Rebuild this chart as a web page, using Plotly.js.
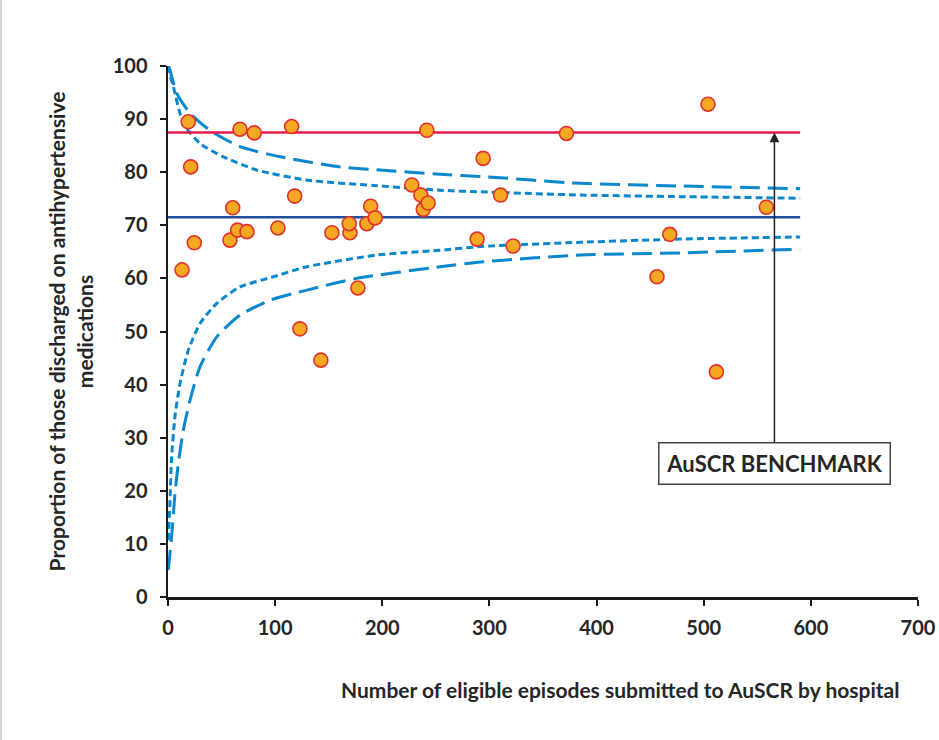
<!DOCTYPE html>
<html>
<head>
<meta charset="utf-8">
<script src="https://cdn.plot.ly/plotly-3.0.1.min.js"></script>
<style>
  html, body { margin: 0; padding: 0; background: #fff; }
  #chart { width: 939px; height: 740px; }
  #edge { position: absolute; left: 0; top: 0; width: 2px; height: 740px; background: #d6d6d6; }
</style>
</head>
<body>
<div id="chart"></div>
<div id="edge"></div>
<script>
// Hospital points: number of eligible episodes vs proportion discharged on antihypertensives
const hospitalEpisodes = [13.1, 18.9, 21.2, 24.5, 57.8, 60.4, 65.0, 67.2, 73.7, 80.5,
  102.6, 115.4, 118.2, 123.1, 142.7, 153.0, 169.8, 169.1, 177.2, 185.6,
  189.1, 193.4, 227.6, 236.0, 238.2, 242.8, 241.6, 288.5, 294.1, 310.4,
  322.1, 371.9, 456.4, 468.3, 504.0, 511.8, 558.5];
const hospitalProportion = [61.6, 89.5, 81.0, 66.7, 67.2, 73.3, 69.1, 88.1, 68.8, 87.4,
  69.5, 88.6, 75.5, 50.5, 44.6, 68.6, 68.6, 70.3, 58.2, 70.3,
  73.6, 71.4, 77.6, 75.7, 73.0, 74.2, 87.9, 67.4, 82.6, 75.7,
  66.1, 87.3, 60.3, 68.3, 92.8, 42.4, 73.4];

// Reference lines
const lineX = [0, 590];
const benchmarkY = [87.5, 87.5];
const averageY = [71.5, 71.5];

// Funnel limits
const upper95X = [0, 1, 5, 14.3, 29.9, 51.7, 83, 130, 192, 254, 292, 385, 478, 590];
const upper95Y = [100, 99, 96.1, 89.2, 85.4, 82.9, 80.4, 78.5, 77.5, 76.6, 76.3, 75.7, 75.4, 75.1];
const upper998X = [0, 1.2, 8.1, 20.6, 39, 67.3, 105, 161, 198, 254, 292, 385, 478, 590];
const upper998Y = [100, 99.6, 94.9, 91.1, 87.9, 84.8, 82.9, 81.0, 80.4, 79.6, 79.2, 77.9, 77.4, 76.9];
const lower95X = [0.3, 1.9, 3.4, 6.5, 11.2, 19, 29.9, 45.5, 67.3, 98.4, 129.6, 195, 254, 292, 385, 478, 590];
const lower95Y = [10.7, 18.3, 26.4, 34, 40.2, 46.5, 51.5, 55.3, 58.4, 60.3, 62.2, 64.4, 65.3, 66.0, 66.8, 67.4, 67.8];
const lower998X = [0.3, 3.4, 6.5, 9.7, 14.3, 20.6, 29.9, 45.5, 67.3, 95.3, 129.6, 176, 254, 292, 385, 478, 590];
const lower998Y = [5.1, 11.4, 19.5, 25.2, 31.4, 37.1, 43.4, 49.0, 53.1, 55.9, 57.8, 60.0, 62.2, 63.1, 64.4, 64.8, 65.5];

const xTicks = [0, 100, 200, 300, 400, 500, 600, 700];
const yTicks = [0, 10, 20, 30, 40, 50, 60, 70, 80, 90, 100];

const funnelColor = '#0a87cd';
const shortDash = '7px,4px';
const longDash = '20px,8px';

const traces = [
  {x: upper998X, y: upper998Y, mode: 'lines', line: {color: funnelColor, width: 3, dash: longDash, shape: 'spline', smoothing: 0.6}, hoverinfo: 'skip'},
  {x: lower998X, y: lower998Y, mode: 'lines', line: {color: funnelColor, width: 3, dash: longDash, shape: 'spline', smoothing: 0.6}, hoverinfo: 'skip'},
  {x: upper95X, y: upper95Y, mode: 'lines', line: {color: funnelColor, width: 3, dash: shortDash, shape: 'spline', smoothing: 0.6}, hoverinfo: 'skip'},
  {x: lower95X, y: lower95Y, mode: 'lines', line: {color: funnelColor, width: 3, dash: shortDash, shape: 'spline', smoothing: 0.6}, hoverinfo: 'skip'},
  {x: lineX, y: benchmarkY, mode: 'lines', line: {color: '#e8194c', width: 2.5}},
  {x: lineX, y: averageY, mode: 'lines', line: {color: '#1f4f9c', width: 2.5}},
  {x: hospitalEpisodes, y: hospitalProportion, mode: 'markers',
   marker: {size: 14, color: '#f7a823', line: {color: '#e2302a', width: 1.6}}}
];

const tickFont = {family: 'Lato, "Open Sans", sans-serif', size: 20, color: '#262626', weight: 700};
const titleFont = {family: 'Lato, "Open Sans", sans-serif', size: 21, color: '#262626', weight: 700};

const layout = {
  width: 939, height: 740,
  margin: {l: 168, r: 21, t: 66, b: 143},
  paper_bgcolor: '#ffffff', plot_bgcolor: '#ffffff',
  showlegend: false,
  font: tickFont,
  xaxis: {
    range: [0, 700], tickvals: xTicks, ticktext: xTicks.map(String),
    showgrid: false, zeroline: false, showline: true, linecolor: '#1a1a1a', linewidth: 2.5,
    ticks: 'outside', ticklen: 6, tickwidth: 2, tickcolor: '#1a1a1a',
    tickfont: tickFont, ticklabelstandoff: 5, fixedrange: true
  },
  yaxis: {
    range: [0, 100], tickvals: yTicks, ticktext: yTicks.map(String),
    showgrid: false, zeroline: false, showline: true, linecolor: '#1a1a1a', linewidth: 2.5,
    ticks: 'outside', ticklen: 6, tickwidth: 2, tickcolor: '#1a1a1a',
    tickfont: tickFont, ticklabelstandoff: 8,
    title: {text: 'Proportion of those discharged on antihypertensive<br>medications', font: titleFont, standoff: 14},
    fixedrange: true
  },
  annotations: [
    {
      xref: 'paper', yref: 'paper', x: 0.603, y: -0.175, xanchor: 'center', yanchor: 'middle',
      text: 'Number of eligible episodes submitted to AuSCR by hospital', showarrow: false, font: titleFont
    },
    {
      xref: 'x', yref: 'y', x: 566, y: 87.5, axref: 'x', ayref: 'y', ax: 566, ay: 25.2,
      text: 'AuSCR BENCHMARK', showarrow: true, arrowhead: 2, arrowsize: 1.3, arrowwidth: 1.5, arrowcolor: '#222',
      standoff: 0, startstandoff: 0,
      bordercolor: '#444', borderwidth: 1.5, borderpad: 2, bgcolor: '#ffffff',
      width: 226, height: 36,
      font: {family: 'Lato, "Open Sans", sans-serif', size: 22, color: '#262626', weight: 700}
    }
  ]
};

Plotly.newPlot('chart', traces, layout, {displayModeBar: false, staticPlot: true});
</script>
</body>
</html>
